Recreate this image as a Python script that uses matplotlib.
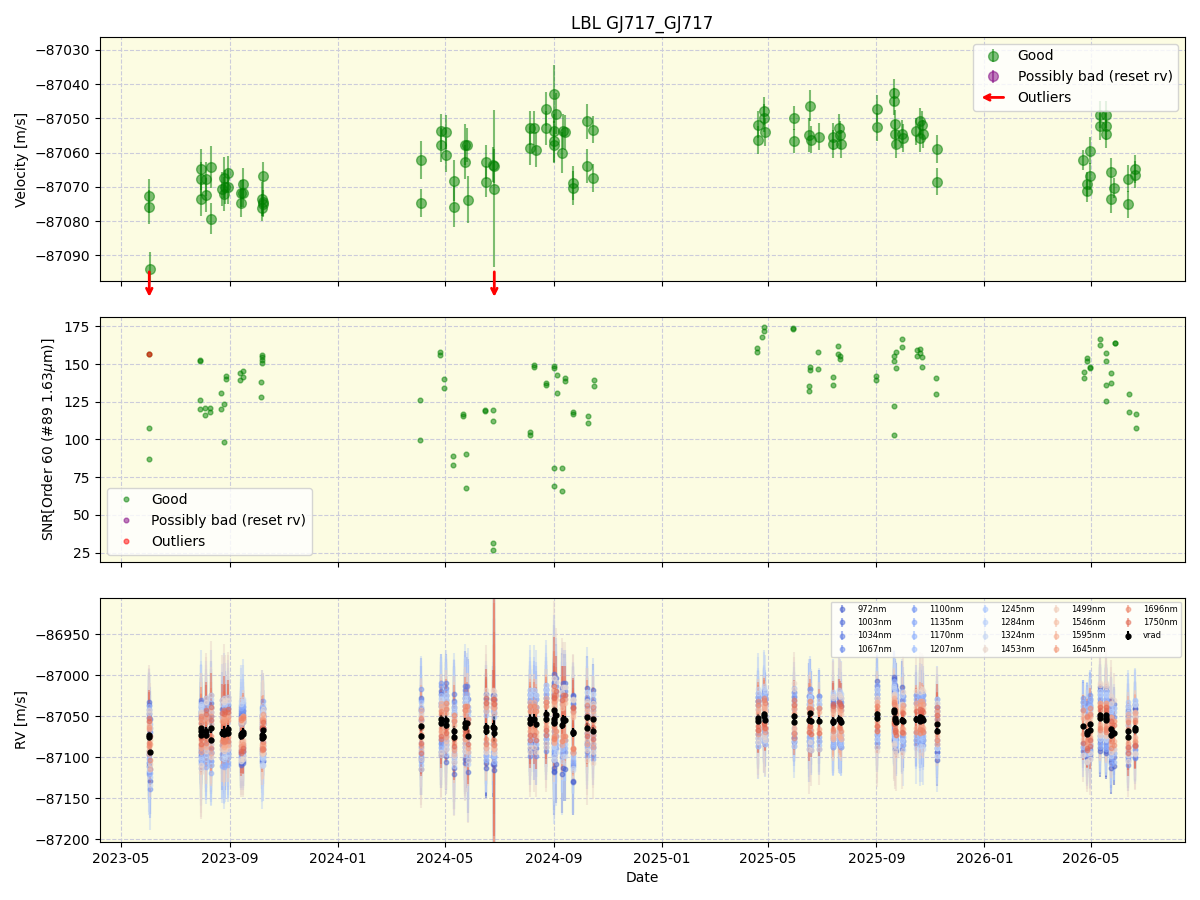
import matplotlib
matplotlib.use('Agg')
import matplotlib.pyplot as plt
import matplotlib.dates as mdates
import numpy as np
import pandas as pd
from matplotlib.legend_handler import HandlerBase
from matplotlib.patches import FancyArrowPatch
from matplotlib.lines import Line2D

# ---------------- data ----------------
rv_dates = [
    '2023-06-02', '2023-06-02', '2023-06-03', '2023-07-30', '2023-07-30', '2023-07-30',
    '2023-08-05', '2023-08-05', '2023-08-11', '2023-08-11', '2023-08-23', '2023-08-25',
    '2023-08-26', '2023-08-27', '2023-08-30', '2023-08-30', '2023-09-14', '2023-09-14',
    '2023-09-16', '2023-09-16', '2023-10-08', '2023-10-07', '2023-10-07', '2023-10-08',
    '2023-10-09', '2024-04-04', '2024-04-04', '2024-04-27', '2024-04-27', '2024-05-02',
    '2024-05-02', '2024-05-12', '2024-05-12', '2024-05-24', '2024-05-26', '2024-05-24',
    '2024-05-27', '2024-06-17', '2024-06-17', '2024-06-25', '2024-06-26', '2024-06-26',
    '2024-08-05', '2024-08-05', '2024-08-10', '2024-08-12', '2024-08-24', '2024-08-24',
    '2024-09-01', '2024-09-04', '2024-09-01', '2024-09-01', '2024-09-02', '2024-09-10',
    '2024-09-12', '2024-09-14', '2024-09-23', '2024-09-23', '2024-10-09', '2024-10-09',
    '2024-10-16', '2024-10-16', '2025-04-20', '2025-04-20', '2025-04-27', '2025-04-27',
    '2025-04-28', '2025-05-31', '2025-05-31', '2025-06-18', '2025-06-17', '2025-06-19',
    '2025-06-28', '2025-07-14', '2025-07-14', '2025-07-21', '2025-07-22', '2025-07-23',
    '2025-09-02', '2025-09-02', '2025-09-21', '2025-09-21', '2025-09-22', '2025-09-22',
    '2025-09-23', '2025-09-30', '2025-10-01', '2025-10-16', '2025-10-20', '2025-10-20',
    '2025-10-22', '2025-10-24', '2025-11-08', '2025-11-08', '2026-04-23', '2026-04-27',
    '2026-04-27', '2026-04-30', '2026-04-30', '2026-05-12', '2026-05-12', '2026-05-18',
    '2026-05-18', '2026-05-19', '2026-05-24', '2026-05-24', '2026-05-28', '2026-06-12',
    '2026-06-12', '2026-06-20', '2026-06-20']
rv_vals = [
    -87072.6, -87075.8, -87093.9, -87064.8, -87067.7, -87073.5,
    -87067.7, -87072.3, -87064.2, -87079.3, -87070.6, -87072.0,
    -87067.4, -87070.1, -87065.9, -87070.0, -87074.7, -87071.9,
    -87069.1, -87071.9, -87066.7, -87073.5, -87076.1, -87074.5,
    -87074.9, -87062.1, -87074.7, -87053.8, -87057.7, -87054.0,
    -87060.6, -87068.2, -87075.8, -87057.7, -87057.7, -87062.7,
    -87073.7, -87062.7, -87068.5, -87063.5, -87064.0, -87070.5,
    -87052.8, -87058.6, -87052.8, -87059.1, -87047.2, -87052.8,
    -87042.9, -87048.6, -87053.8, -87056.7, -87057.9, -87060.1,
    -87053.8, -87054.1, -87068.8, -87070.3, -87050.9, -87063.8,
    -87053.3, -87067.4, -87051.8, -87056.3, -87047.8, -87049.9,
    -87054.0, -87049.9, -87056.5, -87046.3, -87054.8, -87056.2,
    -87055.3, -87055.3, -87057.5, -87052.8, -87054.8, -87057.5,
    -87047.2, -87052.5, -87042.5, -87045.0, -87051.6, -87054.6,
    -87057.5, -87054.6, -87055.7, -87053.8, -87050.9, -87055.7,
    -87051.8, -87054.6, -87058.9, -87068.5, -87062.2, -87069.3,
    -87071.3, -87059.4, -87066.9, -87048.9, -87052.3, -87048.9,
    -87054.6, -87052.3, -87065.6, -87073.5, -87070.3, -87067.6,
    -87075.1, -87064.8, -87066.4]
rv_errs = [
    5, 5, 5, 6, 5, 5,
    5, 5, 6, 4.5, 5, 5,
    6, 5, 5, 5, 4, 4,
    4.5, 4, 4, 5, 4, 4,
    4, 5.5, 4, 5, 5, 5,
    5, 6, 6, 6, 5, 5,
    7, 5, 4.5, 5, 5, 23,
    5, 5, 5, 5, 5, 5,
    8.5, 6, 5, 6, 5, 6,
    5, 5, 5, 5, 5, 5,
    4, 4, 4, 4, 4, 4,
    4, 3.5, 3.5, 4.5, 5, 4,
    4, 4, 4, 4, 4, 4,
    4, 4, 4, 4, 4, 4,
    4, 4, 4, 4, 4, 4,
    4, 4, 4, 4, 3, 3.5,
    3, 4, 4, 4, 4, 4,
    4, 4, 4, 4, 3, 4,
    4, 4, 4]

outlier_dates = ['2023-06-02', '2024-06-26']

snr_dates = [
    '2023-06-02', '2023-06-02', '2023-06-02', '2023-07-29', '2023-07-29', '2023-07-29', '2023-07-29',
    '2023-08-04', '2023-08-04', '2023-08-10', '2023-08-10', '2023-08-22', '2023-08-22',
    '2023-08-25', '2023-08-25', '2023-08-28', '2023-08-28', '2023-09-12', '2023-09-12',
    '2023-09-16', '2023-09-16', '2023-10-06', '2023-10-06', '2023-10-07', '2023-10-07',
    '2023-10-07', '2023-10-07',
    '2024-04-03', '2024-04-03', '2024-04-26', '2024-04-26', '2024-04-30', '2024-04-30',
    '2024-05-10', '2024-05-10', '2024-05-22', '2024-05-22', '2024-05-25', '2024-05-25',
    '2024-06-16', '2024-06-16', '2024-06-24', '2024-06-24', '2024-06-24', '2024-06-24',
    '2024-08-05', '2024-08-05', '2024-08-10', '2024-08-10', '2024-08-24', '2024-08-24',
    '2024-09-02', '2024-09-02', '2024-09-02', '2024-09-02', '2024-09-05', '2024-09-05',
    '2024-09-10', '2024-09-10', '2024-09-14', '2024-09-14', '2024-09-23', '2024-09-23',
    '2024-10-10', '2024-10-10', '2024-10-17', '2024-10-17',
    '2025-04-19', '2025-04-19', '2025-04-25', '2025-04-27', '2025-04-27', '2025-05-30',
    '2025-05-30', '2025-06-17', '2025-06-17', '2025-06-18', '2025-06-18', '2025-06-27',
    '2025-06-27', '2025-07-14', '2025-07-14', '2025-07-20', '2025-07-20', '2025-07-22',
    '2025-07-22', '2025-09-01', '2025-09-01', '2025-09-21', '2025-09-21', '2025-09-21',
    '2025-09-21', '2025-09-23', '2025-09-23', '2025-09-30', '2025-09-30', '2025-10-17',
    '2025-10-17', '2025-10-20', '2025-10-20', '2025-10-22', '2025-10-22', '2025-11-07',
    '2025-11-07', '2026-04-24', '2026-04-24', '2026-04-27', '2026-04-27', '2026-04-30',
    '2026-04-30', '2026-05-12', '2026-05-12', '2026-05-18', '2026-05-18', '2026-05-19',
    '2026-05-19', '2026-05-24', '2026-05-24', '2026-05-29', '2026-05-29', '2026-06-13',
    '2026-06-13', '2026-06-21', '2026-06-21']
snr_vals = [
    156.6, 107.4, 86.8, 152.6, 152.0, 126.1, 120.0,
    120.6, 116.0, 120.6, 118.4, 130.6, 120.0,
    123.3, 98.1, 142.0, 139.9, 143.8, 139.2,
    145.2, 141.2, 137.9, 127.9, 156.0, 154.8,
    152.6, 150.5,
    126.1, 99.6, 158.2, 155.8, 139.9, 133.9,
    88.8, 82.8, 116.8, 115.5, 90.1, 67.8,
    119.3, 118.6, 119.3, 112.0, 31.1, 26.5,
    104.7, 103.1, 149.3, 147.8, 137.4, 135.9,
    148.9, 147.1, 81.0, 68.9, 142.7, 130.6,
    81.0, 65.8, 140.7, 138.5, 118.4, 116.8,
    115.5, 110.7, 139.4, 135.4,
    160.4, 157.8, 168.1, 174.3, 171.7, 173.2,
    173.6, 135.2, 131.9, 147.8, 146.2, 157.8,
    146.5, 141.2, 135.9, 161.7, 156.4, 155.1,
    153.5, 141.8, 139.2, 122.0, 102.7, 155.1,
    151.8, 157.8, 147.1, 166.4, 161.1, 159.3,
    155.5, 160.0, 157.3, 154.4, 147.8, 140.5,
    129.9, 144.5, 140.5, 153.8, 151.8, 147.5,
    147.9, 166.4, 162.4, 136.1, 125.3, 157.1,
    151.8, 143.8, 137.2, 163.7, 164.0, 129.9,
    118.0, 116.6, 107.4]
snr_outlier_dates = ['2023-06-02']
snr_outlier_vals = [156.8]

wavelengths = [972, 1003, 1034, 1067, 1100, 1135, 1170, 1207, 1245, 1284,
               1324, 1453, 1499, 1546, 1595, 1645, 1696, 1750]
band_errs = [40, 35, 35, 35, 35, 40, 40, 45, 45, 50, 55, 55, 40, 30, 28, 28, 30, 35]
# per-band offset from vrad for each observing month (21 months)
band_offsets = [
    [-35, 20, -30, 15, 25, -40, 30, -45, 20, -60, 35, 25, -20, 30, -30, 40, -25, -35, 30, -40, 25],
    [40, -25, 30, -35, 10, 35, -45, 40, -30, 45, -20, -15, 30, -25, 20, -35, 30, 15, -30, 35, -20],
    [-20, 35, -15, 25, -30, 20, 45, -35, 30, -25, 15, 20, -25, 15, -20, 25, -15, -25, 20, -30, 30],
    [25, -30, 40, -20, 15, -25, -30, 25, -40, 35, -30, -30, 15, -35, 25, -20, 20, 30, -25, 20, -35],
    [-45, 15, -25, 30, -20, 45, 20, -20, 35, -40, 25, 30, -30, 20, -15, 30, -30, -20, 35, -25, 15],
    [30, -40, 20, -25, 35, -30, -20, 35, -25, 30, -35, -25, 25, -20, 30, -25, 25, 20, -20, 30, -25],
    [-25, 30, -40, 35, -15, 20, 35, -30, 20, -35, 20, 15, -20, 30, -25, 35, -20, -30, 25, -35, 20],
    [35, -20, 25, -30, 20, -35, -25, 20, -20, 40, -25, -20, 35, -30, 15, -30, 30, 25, -35, 25, -30],
    [-30, 25, -20, 20, -25, 30, 25, -35, 30, -30, 30, 25, -15, 25, -30, 20, -25, -20, 30, -20, 35],
    [20, -35, 35, -15, 30, -20, -35, 30, -25, 25, -20, -30, 20, -25, 35, -25, 20, 30, -25, 30, -20],
    [-40, 30, -30, 40, -35, 25, 30, -25, 35, -45, 30, 35, -30, 20, -20, 30, -35, -30, 20, -25, 30],
    [30, -45, 40, -30, 25, -40, -30, 45, -35, 40, -40, -25, 40, -35, 30, -40, 35, 25, -35, 40, -30],
    [-15, 20, -20, 15, -20, 15, 20, -25, 15, -20, 20, 15, -10, 15, -15, 20, -15, -10, 15, -20, 15],
    [15, -15, 20, -10, 15, -15, -20, 25, -15, 20, -15, -10, 15, -15, 10, -15, 15, 10, -15, 15, -10],
    [-20, 10, -15, 20, -10, 20, 15, -20, 20, -25, 10, 10, -15, 10, -20, 15, -10, -15, 10, -10, 20],
    [10, -20, 15, -15, 20, -10, -15, 30, -10, 25, -20, -15, 10, -10, 15, -10, 20, 15, -10, 15, -15],
    [-10, 15, -10, 20, -15, 10, 20, -15, 15, -20, 15, 20, -20, 15, -10, 10, -15, -10, 20, -15, 10],
    [20, -10, 25, -20, 10, -20, -10, 35, -20, 30, -10, -10, 20, -15, 20, -15, 10, 20, -20, 10, -20],
]

# ---------------- figure ----------------
bg = '#fcfce2'
grid_kw = dict(ls='--', color=(0.80, 0.80, 0.86), lw=0.8)

t = pd.to_datetime(rv_dates)
v = np.array(rv_vals)
e = np.array(rv_errs)
ts = pd.to_datetime(snr_dates)

fig, (ax1, ax2, ax3) = plt.subplots(3, 1, figsize=(12, 9), dpi=100, sharex=True)
fig.subplots_adjust(left=0.0833, right=0.9875, top=0.959, bottom=0.0644, hspace=0.147)

for ax in (ax1, ax2, ax3):
    ax.set_facecolor(bg)
    ax.grid(True, **grid_kw)
    ax.set_axisbelow(True)

# --- top panel ---
good = ax1.errorbar(t, v, yerr=e, fmt='o', color='green', alpha=0.5, ms=7, label='Good')
bad = ax1.errorbar([], [], yerr=[], fmt='o', color='purple', alpha=0.5, ms=7,
                   label='Possibly bad (reset rv)')
for d in pd.to_datetime(outlier_dates):
    ax1.annotate('', xy=(d, -0.075), xycoords=('data', 'axes fraction'),
                 xytext=(d, 0.05), textcoords=('data', 'axes fraction'),
                 arrowprops=dict(arrowstyle='->', color='red', lw=2),
                 annotation_clip=False)
ax1.set_ylim(-87097.6, -87026.2)
ax1.set_ylabel('Velocity [m/s]')
ax1.set_title('LBL GJ717_GJ717')


class HandlerArrow(HandlerBase):
    def create_artists(self, legend, orig_handle, xdescent, ydescent, width,
                       height, fontsize, trans):
        y = height / 2 - ydescent
        a = FancyArrowPatch((width - xdescent, y), (-xdescent, y),
                            arrowstyle='->', mutation_scale=10, lw=2,
                            color='red', transform=trans)
        return [a]


arrow_proxy = Line2D([], [], color='red')
ax1.legend([good, bad, arrow_proxy], ['Good', 'Possibly bad (reset rv)', 'Outliers'],
           loc='upper right', handler_map={arrow_proxy: HandlerArrow()})

# --- middle panel ---
ax2.plot(ts, snr_vals, 'o', color='green', alpha=0.5, ms=3.4, label='Good')
ax2.plot([], [], 'o', color='purple', alpha=0.5, ms=3.4, label='Possibly bad (reset rv)')
ax2.plot(pd.to_datetime(snr_outlier_dates), snr_outlier_vals, 'o', color='red',
         alpha=0.5, ms=3.4, label='Outliers')
ax2.set_ylim(19, 181)
ax2.set_ylabel(r'SNR[Order 60 (#89 1.63$\mu$m)]')
ax2.legend(loc='lower left')

# --- bottom panel ---
months = t.to_period('M')
uniq = sorted(set(months))
gidx = np.array([uniq.index(m) for m in months])
cmap = plt.get_cmap('coolwarm')
wl = np.array(wavelengths, dtype=float)
norm = (wl - wl.min()) / (wl.max() - wl.min())
for j, w in enumerate(wavelengths):
    off = np.array(band_offsets[j])[gidx]
    ax3.errorbar(t, v + off, yerr=band_errs[j] * e / 5.0, fmt='o',
                 color=cmap(0.04 + 0.82 * norm[j]), alpha=0.5, ms=3.2,
                 elinewidth=1.5, label=f'{w}nm')
ax3.errorbar(t, v, yerr=e, fmt='o', color='black', ms=3.5, elinewidth=1.5, label='vrad')
ax3.set_ylim(-87203.7, -86905)
ax3.set_ylabel('RV [m/s]')
ax3.set_xlabel('Date')
ax3.legend(loc='upper right', ncol=5, fontsize=6, columnspacing=1.6)

ax3.xaxis.set_major_locator(mdates.MonthLocator(bymonth=[1, 5, 9]))
ax3.xaxis.set_major_formatter(mdates.DateFormatter('%Y-%m'))

fig.savefig('out.png', dpi=100)
